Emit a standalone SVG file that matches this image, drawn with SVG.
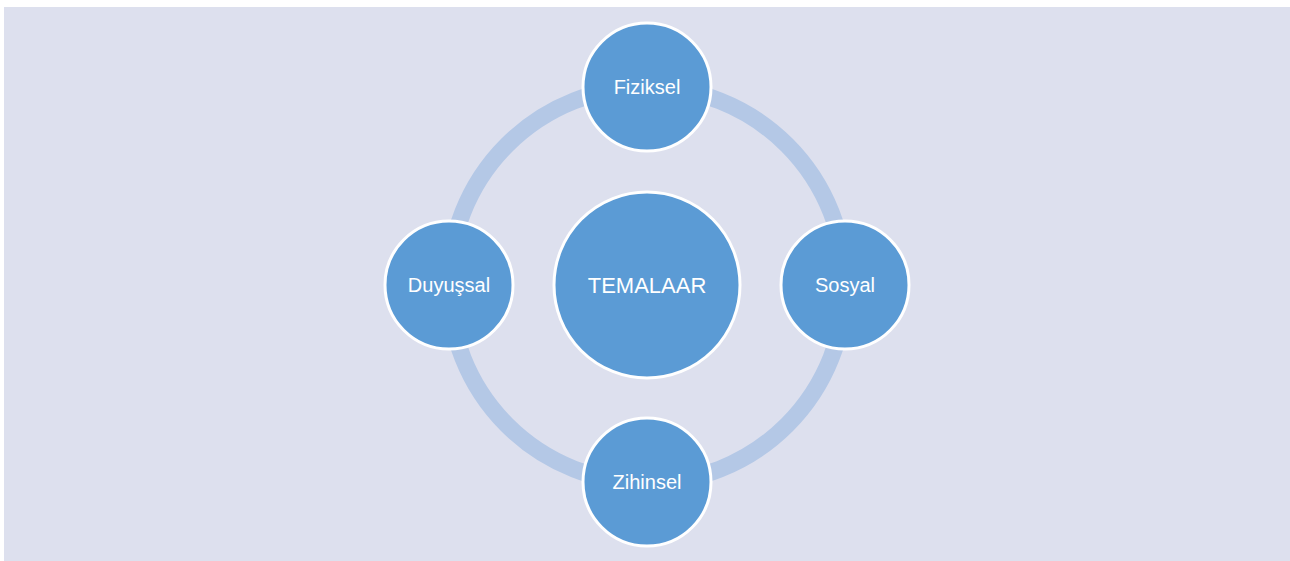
<svg xmlns="http://www.w3.org/2000/svg" width="1290" height="561" viewBox="0 0 1290 561">
<style>
.node{fill:#5B9BD5;stroke:#FFFFFF;stroke-width:3}
.lbl{font-family:"Liberation Sans",Arial,sans-serif;font-size:20px;fill:#FFFFFF;text-anchor:middle;dominant-baseline:central}
</style>
<rect x="0" y="0" width="1290" height="561" fill="#FFFFFF"/>
<rect x="4" y="7" width="1286" height="554" fill="#DDE0EE"/>
<g id="connectors">
<circle cx="647" cy="285" r="198" fill="none" stroke="#B4C8E6" stroke-width="17"/>
</g>
<g id="center">
<circle class="node" cx="647" cy="285" r="93"/>
<text class="lbl" x="647" y="285" style="font-size:22px">TEMALAAR</text>
</g>
<g id="fiziksel">
<circle class="node" cx="647" cy="87" r="64"/>
<text class="lbl" x="647" y="87">Fiziksel</text>
</g>
<g id="sosyal">
<circle class="node" cx="845" cy="285" r="64"/>
<text class="lbl" x="845" y="285">Sosyal</text>
</g>
<g id="zihinsel">
<circle class="node" cx="647" cy="482" r="64"/>
<text class="lbl" x="647" y="482">Zihinsel</text>
</g>
<g id="duyussal">
<circle class="node" cx="449" cy="285" r="64"/>
<text class="lbl" x="449" y="285">Duyuşsal</text>
</g>
</svg>
